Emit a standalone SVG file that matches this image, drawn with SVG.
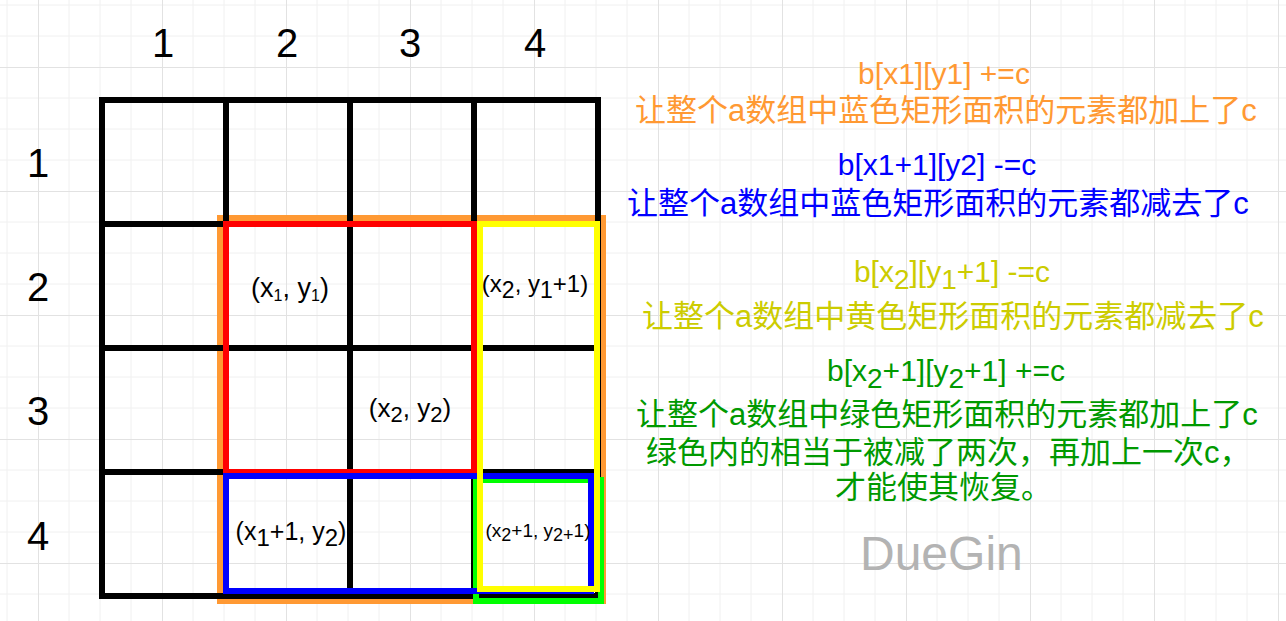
<svg xmlns="http://www.w3.org/2000/svg" width="1286" height="621" viewBox="0 0 1286 621">
<defs>
<pattern id="grid" patternUnits="userSpaceOnUse" x="38" y="67" width="124" height="124">
<path d="M31 0V124M62 0V124M93 0V124M0 31H124M0 62H124M0 93H124" fill="none" stroke="#f0f0f0" stroke-width="1"/>
<path d="M0.5 0V124M0 0.5H124" fill="none" stroke="#e2e2e2" stroke-width="1"/>
</pattern>
</defs>
<style>
text{font-family:"Liberation Sans","Noto Sans CJK SC",Arial,sans-serif}
.hd{font-size:40px;fill:#000;text-anchor:middle}
.cell{fill:#000;text-anchor:middle}
.tbl{fill:none;stroke:#000;stroke-width:6}
.hl{fill:none;stroke-width:6}
.f{font-size:30px;text-anchor:middle}
.cn{font-size:31px}
</style>
<rect width="1286" height="621" fill="#ffffff"/>
<rect width="1286" height="621" fill="url(#grid)"/>

<g id="col-headers">
<text class="hd" x="163" y="57">1</text>
<text class="hd" x="287" y="57">2</text>
<text class="hd" x="410" y="57">3</text>
<text class="hd" x="535" y="57">4</text>
</g>
<g id="row-headers">
<text class="hd" x="38" y="177">1</text>
<text class="hd" x="38" y="301">2</text>
<text class="hd" x="38" y="425">3</text>
<text class="hd" x="38" y="550">4</text>
</g>

<g id="orange-rect"><rect class="hl" x="220" y="218" width="383" height="383" stroke="#FF9933"/></g>

<g id="table">
<rect class="tbl" x="102" y="100" width="496" height="496"/>
<path class="tbl" d="M226 100V596M350 100V596M474 100V596M102 224H598M102 348H598M102 472H598"/>
</g>

<g id="red-rect"><rect class="hl" x="226" y="224" width="248" height="248" stroke="#FF0000"/></g>
<g id="green-rect"><rect class="hl" x="476" y="480" width="125" height="121" stroke="#00FF00" stroke-width="5"/></g>
<g id="blue-rect"><rect class="hl" x="226" y="476" width="365" height="115" stroke="#0000FF"/></g>
<g id="yellow-rect"><rect class="hl" x="480" y="224" width="117" height="365" stroke="#FFFF00"/></g>

<g id="cell-labels">
<text class="cell" x="290" y="297" font-size="27">(x<tspan font-size="16" dy="4">1</tspan><tspan dy="-4">, y</tspan><tspan font-size="16" dy="4">1</tspan><tspan dy="-4">)</tspan></text>
<text class="cell" x="410" y="417" font-size="26">(x<tspan font-size="22" dy="5">2</tspan><tspan dy="-5">, y</tspan><tspan font-size="22" dy="5">2</tspan><tspan dy="-5">)</tspan></text>
<text class="cell" x="535" y="292" font-size="24">(x<tspan font-size="23" dy="6">2</tspan><tspan dy="-6">, y</tspan><tspan font-size="23" dy="6">1</tspan><tspan dy="-6">+1)</tspan></text>
<text class="cell" x="291" y="540" font-size="25">(x<tspan font-size="24" dy="6">1</tspan><tspan dy="-6">+1, y</tspan><tspan font-size="24" dy="6">2</tspan><tspan dy="-6">)</tspan></text>
<text class="cell" x="538" y="537" font-size="19">(x<tspan font-size="18" dy="4">2</tspan><tspan dy="-4">+1, y</tspan><tspan font-size="18" dy="4">2+</tspan><tspan dy="-4">1)</tspan></text>
</g>

<g id="note-orange" fill="#FF9933">
<text class="f" x="944" y="84">b[x1][y1] +=c</text>
<text class="cn" x="635" y="121">让整个a数组中蓝色矩形面积的元素都加上了c</text>
</g>
<g id="note-blue" fill="#0000FF">
<text class="f" x="937" y="175">b[x1+1][y2] -=c</text>
<text class="cn" x="627" y="214">让整个a数组中蓝色矩形面积的元素都减去了c</text>
</g>
<g id="note-yellow" fill="#CCCC00">
<text class="f" x="952" y="282">b[x<tspan font-size="28" dy="7">2</tspan><tspan dy="-7">][y</tspan><tspan font-size="28" dy="7">1</tspan><tspan dy="-7">+1] -=c</tspan></text>
<text class="cn" x="642" y="327">让整个a数组中黄色矩形面积的元素都减去了c</text>
</g>
<g id="note-green" fill="#009900">
<text class="f" x="946" y="381">b[x<tspan font-size="28" dy="7">2</tspan><tspan dy="-7">+1][y</tspan><tspan font-size="28" dy="7">2</tspan><tspan dy="-7">+1] +=c</tspan></text>
<text class="cn" x="636" y="425">让整个a数组中绿色矩形面积的元素都加上了c</text>
<text class="cn" x="646" y="463">绿色内的相当于被减了两次，再加上一次c，</text>
<text class="cn" x="835" y="498">才能使其恢复。</text>
</g>
<g id="watermark">
<text x="860" y="570" font-size="48" fill="#B3B3B3">DueGin</text>
</g>
</svg>
